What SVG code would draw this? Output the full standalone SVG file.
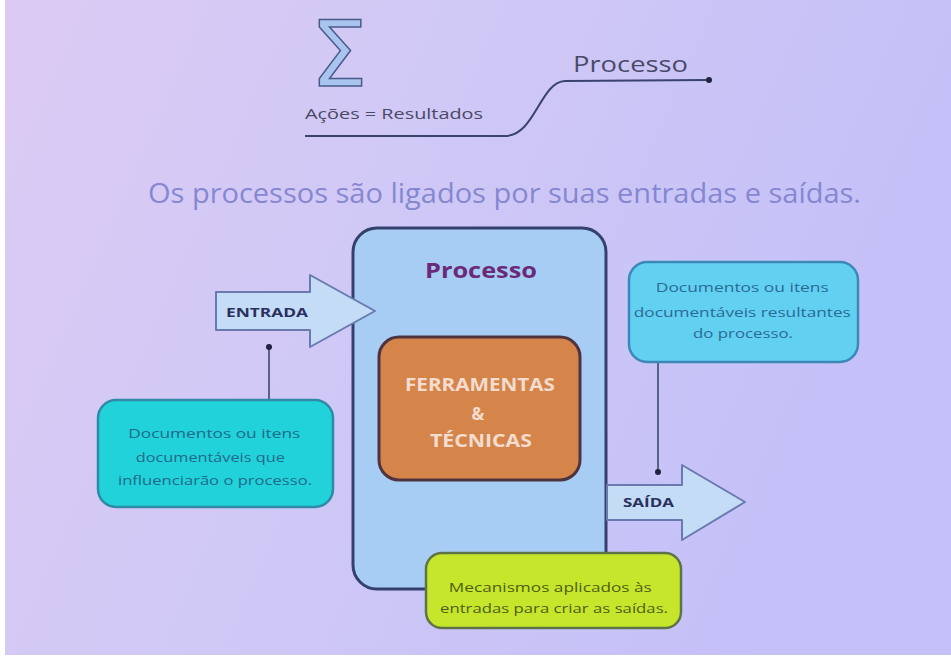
<svg xmlns="http://www.w3.org/2000/svg" width="951" height="658" viewBox="0 0 951 658">
<defs>
<linearGradient id="bg" x1="0" y1="0" x2="1" y2="0.3">
<stop offset="0" stop-color="#dccbf4"/>
<stop offset="0.5" stop-color="#cfc8f6"/>
<stop offset="1" stop-color="#c4c0f8"/>
</linearGradient>
<style>
.s{font-family:"Open Sans","Noto Sans",sans-serif}
.small{font-family:"Open Sans","Noto Sans",sans-serif;font-size:13px;text-anchor:middle}
.conn{stroke:#3a4a6a;stroke-width:1.6;fill:none}
.dot{fill:#1e2440}
</style>
</defs>
<rect x="0" y="0" width="951" height="658" fill="url(#bg)"/>
<rect x="0" y="0" width="5" height="658" fill="#ffffff"/>
<rect x="0" y="655" width="951" height="3" fill="#ffffff"/>

<g id="header">
<text x="339" y="86" font-size="90" text-anchor="middle" fill="#a9c4ee" stroke="#4a5a8a" stroke-width="1.5" font-family="DejaVu Sans, sans-serif">Σ</text>
<text x="305" y="119" class="s" font-size="15" fill="#4a4a66" textLength="178" lengthAdjust="spacingAndGlyphs">Ações = Resultados</text>
<path d="M305 136 L505 136 C535 136 540 82 565 81 L708 80" stroke="#3a4270" stroke-width="2" fill="none"/>
<circle cx="709" cy="80" r="3" class="dot"/>
<text x="573" y="72" class="s" font-size="22" fill="#4a4a6a" textLength="115" lengthAdjust="spacingAndGlyphs">Processo</text>
</g>

<text x="148" y="203" class="s" font-size="27" fill="#8587d2" textLength="713" lengthAdjust="spacingAndGlyphs">Os processos são ligados por suas entradas e saídas.</text>

<g id="connectors">
<line x1="269" y1="347" x2="269" y2="401" class="conn"/>
<circle cx="269" cy="347" r="3" class="dot"/>
<line x1="658" y1="362" x2="658" y2="472" class="conn"/>
<circle cx="658" cy="472" r="3" class="dot"/>
<line x1="477" y1="495" x2="477" y2="553" class="conn"/>
<circle cx="477" cy="495" r="3" class="dot"/>
</g>

<g id="processo">
<rect x="353" y="228" width="253" height="361" rx="24" fill="#a8cdf4" stroke="#34406e" stroke-width="3"/>
<text x="425" y="278" class="s" font-size="22" font-weight="bold" fill="#6a2a78" textLength="112" lengthAdjust="spacingAndGlyphs">Processo</text>
</g>

<g id="entrada">
<path d="M216 292 L310 292 L310 275 L375 311 L310 347 L310 330 L216 330 Z" fill="#c4dcf6" stroke="#6a7ab0" stroke-width="2" stroke-linejoin="round"/>
<text x="226" y="317" class="s" font-size="13" font-weight="bold" fill="#2a3060" textLength="82" lengthAdjust="spacingAndGlyphs">ENTRADA</text>
</g>

<g id="saida">
<path d="M607 485 L682 485 L682 465 L745 502 L682 540 L682 520 L607 520 Z" fill="#c4dcf6" stroke="#6a7ab0" stroke-width="2" stroke-linejoin="round"/>
<text x="623" y="507" class="s" font-size="13" font-weight="bold" fill="#2a3060" textLength="51" lengthAdjust="spacingAndGlyphs">SAÍDA</text>
</g>

<g id="ferramentas">
<rect x="379" y="337" width="201" height="143" rx="20" fill="#d6854a" stroke="#4e3440" stroke-width="3"/>
<text class="s" font-size="17" font-weight="bold" fill="#f5dcd0">
<tspan x="405" y="391" textLength="150" lengthAdjust="spacingAndGlyphs">FERRAMENTAS</tspan>
<tspan x="480" y="420" text-anchor="middle">&amp;</tspan>
<tspan x="430" y="447" textLength="102" lengthAdjust="spacingAndGlyphs">TÉCNICAS</tspan>
</text>
</g>

<g id="doc-entrada">
<rect x="98" y="400" width="235" height="107" rx="18" fill="#22d2da" stroke="#2e8aa6" stroke-width="2.5"/>
<text class="small" fill="#1e6a88">
<tspan x="216" y="438" textLength="172" lengthAdjust="spacingAndGlyphs">Documentos ou itens</tspan>
<tspan x="212" y="462" textLength="149" lengthAdjust="spacingAndGlyphs">documentáveis que</tspan>
<tspan x="215" y="485" textLength="194" lengthAdjust="spacingAndGlyphs">influenciarão o processo.</tspan>
</text>
</g>

<g id="doc-saida">
<rect x="629" y="262" width="229" height="100" rx="18" fill="#62d0f0" stroke="#3c88b8" stroke-width="2.5"/>
<text class="small" fill="#2a6a96">
<tspan x="744" y="292" textLength="173" lengthAdjust="spacingAndGlyphs">Documentos ou itens</tspan>
<tspan x="744" y="317" textLength="217" lengthAdjust="spacingAndGlyphs">documentáveis resultantes</tspan>
<tspan x="743" y="338" textLength="100" lengthAdjust="spacingAndGlyphs">do processo.</tspan>
</text>
</g>

<g id="mecanismos">
<rect x="426" y="553" width="255" height="75" rx="16" fill="#c6e62c" stroke="#5e7448" stroke-width="2.5"/>
<text class="small" fill="#4e5e10">
<tspan x="552" y="592" textLength="203" lengthAdjust="spacingAndGlyphs">Mecanismos aplicados às</tspan>
<tspan x="554" y="613" textLength="228" lengthAdjust="spacingAndGlyphs">entradas para criar as saídas.</tspan>
</text>
</g>
</svg>
